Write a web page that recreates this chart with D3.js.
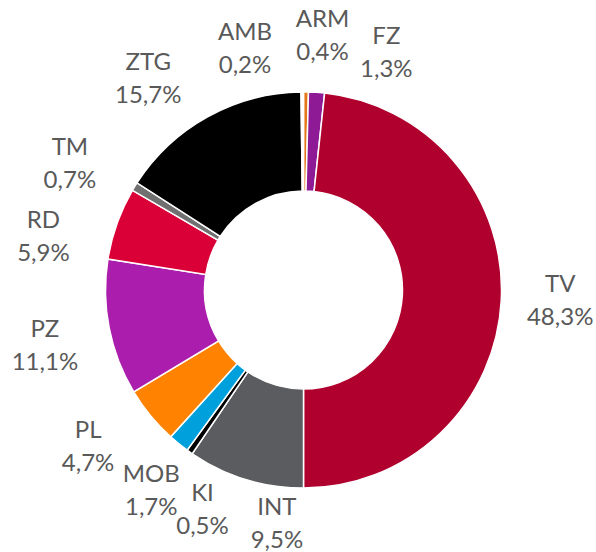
<!DOCTYPE html>
<html>
<head>
<meta charset="utf-8">
<script src="https://cdn.jsdelivr.net/npm/d3@7"></script>
<style>
    body { margin: 0; background: #fff; }
    svg { display: block; }
</style>
</head>
<body>
<svg width="596" height="552"></svg>
<script>
// Data (clockwise from 12 o'clock)
const categories = ['ARM', 'FZ', 'TV', 'INT', 'KI', 'MOB', 'PL', 'PZ', 'RD', 'TM', 'ZTG', 'AMB'];
const shares = [0.4, 1.3, 48.3, 9.5, 0.5, 1.7, 4.7, 11.1, 5.9, 0.7, 15.7, 0.2];
const colors = ['#E5771A', '#8E1A96', '#B0002E', '#5B5C60', '#000000', '#00A0DC',
    '#FF8200', '#AA1DAD', '#DA0037', '#707070', '#000000', '#FFFFFF'];
// label nudges from the computed anchor (Excel best fit placement)
const labelNudge = [[16, -16], [67, 0], [17, -4], [44, 3], [37, 22], [-1, 13],
    [-30, 3], [-23, 8], [-34, 26], [-29, -3], [-39, -3], [-57, -3]];

function drawDonut() {
    const width = 596;
    const height = 552;
    const cx = 303.5;
    const cy = 290;
    const outerR = 198;
    const innerR = 99;
    const labelR = 240;
    const svg = d3.select('svg');

    const data = categories.map((c, i) => ({ name: c, value: shares[i], i: i }));

    const pie = d3.pie()
        .value(d => d.value)
        .sort(null);
    const arcs = pie(data);

    const arc = d3.arc()
        .innerRadius(innerR)
        .outerRadius(outerR);
    const labelArc = d3.arc()
        .innerRadius(labelR)
        .outerRadius(labelR);

    const g = svg.append('g')
        .attr('transform', `translate(${cx}, ${cy})`);

    g.selectAll('path')
        .data(arcs)
        .join('path')
        .attr('d', arc)
        .attr('fill', d => colors[d.data.i])
        .attr('stroke', '#fff')
        .attr('stroke-width', 1.5)
        .attr('stroke-linejoin', 'miter');

    // Labels
    const labels = g.selectAll('text')
        .data(arcs)
        .join('text')
        .attr('transform', d => {
            const [x, y] = labelArc.centroid(d);
            const n = labelNudge[d.data.i];
            return `translate(${x + n[0]}, ${y + n[1]})`;
        })
        .style('text-anchor', 'middle')
        .style('font-family', 'Lato, "Open Sans", sans-serif')
        .style('font-size', '24px')
        .attr('fill', '#595959');
    labels.append('tspan')
        .attr('x', 0)
        .attr('y', -7)
        .text(d => d.data.name);
    labels.append('tspan')
        .attr('x', 0)
        .attr('y', 26)
        .text(d => d3.format('.1f')(d.data.value).replace('.', ',') + '%');
}

window.addEventListener('load', drawDonut);
</script>
</body>
</html>
